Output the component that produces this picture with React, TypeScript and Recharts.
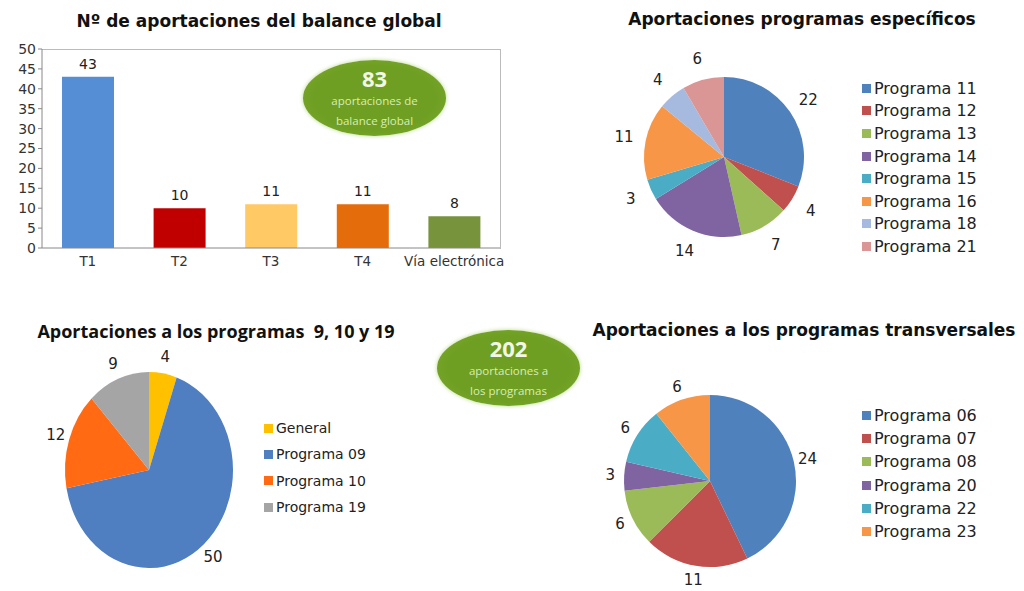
import React from 'react';
import { BarChart, Bar, XAxis, YAxis, Cell, LabelList, PieChart, Pie } from 'recharts';

// bar chart: contributions to the global balance
const balanceCats = ['T1', 'T2', 'T3', 'T4', 'Vía electrónica'];
const balanceVals = [43, 10, 11, 11, 8];
const balanceColors = ['#558ED5', '#C00000', '#FFC966', '#E46C0A', '#77933C'];
const balanceTicks = [0, 5, 10, 15, 20, 25, 30, 35, 40, 45, 50];

// specific programmes
const espNames = ['Programa 11', 'Programa 12', 'Programa 13', 'Programa 14', 'Programa 15', 'Programa 16', 'Programa 18', 'Programa 21'];
const espVals = [22, 4, 7, 14, 3, 11, 4, 6];
const espColors = ['#4F81BD', '#C0504D', '#9BBB59', '#8064A2', '#4BACC6', '#F79646', '#A5BADE', '#D99694'];

// programmes 9, 10 and 19
const p9Names = ['General', 'Programa 09', 'Programa 10', 'Programa 19'];
const p9Vals = [4, 50, 12, 9];
const p9Colors = ['#FFC000', '#4F7EC1', '#FF6A12', '#A5A5A5'];

// transversal programmes
const trNames = ['Programa 06', 'Programa 07', 'Programa 08', 'Programa 20', 'Programa 22', 'Programa 23'];
const trVals = [24, 11, 6, 3, 6, 6];
const trColors = ['#4F81BD', '#C0504D', '#9BBB59', '#8064A2', '#4BACC6', '#F79646'];

const FONT = '"DejaVu Sans", Verdana, sans-serif';
const RADIAN = Math.PI / 180;
const P9_STRETCH = 1.167;

const toRows = (names: string[], vals: number[]) => names.map((n, i) => ({ name: n, value: vals[i] }));

const makeLabel = (offset: number, sy = 1) => (props: any) => {
  const { cx, cy, midAngle, outerRadius, value } = props;
  const r = outerRadius + offset;
  const x = cx + r * Math.cos(-midAngle * RADIAN);
  const y = cy + r * Math.sin(-midAngle * RADIAN);
  return (
    <text
      x={x}
      y={y}
      textAnchor="middle"
      dominantBaseline="central"
      fontSize={15}
      fontFamily={FONT}
      fill="#222"
      transform={sy !== 1 ? `translate(${x},${y}) scale(1,${1 / sy}) translate(${-x},${-y})` : undefined}
    >
      {value}
    </text>
  );
};

const SimpleLegend = ({ names, colors, left, top, gap, fontSize }: any) => (
  <div style={{ position: 'absolute', left, top, fontFamily: FONT, fontSize, color: '#222' }}>
    {names.map((n: string, i: number) => (
      <div key={n} style={{ height: gap, display: 'flex', alignItems: 'center' }}>
        <span style={{ width: 9, height: 9, background: colors[i], marginRight: 3, display: 'inline-block' }} />
        {n}
      </div>
    ))}
  </div>
);

const Bubble = ({ left, top, big, lines }: any) => (
  <div
    style={{
      position: 'absolute',
      left,
      top,
      width: 143,
      height: 76,
      borderRadius: '50%',
      background: 'radial-gradient(ellipse at center, #6E9E22 60%, #79A82C 85%, #A9C972 100%)',
      boxShadow: '0 0 4px #B9D98A',
      textAlign: 'center',
      fontFamily: '"Open Sans", sans-serif',
      color: '#D9EDB2',
    }}
  >
    <div style={{ fontSize: 22, fontWeight: 700, color: '#F3F8E6', marginTop: 5, lineHeight: '26px' }}>{big}</div>
    {lines.map((l: string) => (
      <div key={l} style={{ fontSize: 11.5, lineHeight: '20px' }}>{l}</div>
    ))}
  </div>
);

const titleStyle = (left: number, top: number, width: number, family = FONT, size = 17): React.CSSProperties => ({
  position: 'absolute',
  left,
  top,
  width,
  textAlign: 'center',
  fontFamily: family,
  fontWeight: 700,
  fontSize: size,
  color: '#111',
});

export default function App() {
  const barData = balanceCats.map((c, i) => ({ name: c, value: balanceVals[i] }));

  return (
    <div style={{ position: 'absolute', left: 0, top: 0, width: 1024, height: 591, background: '#fff', overflow: 'hidden' }}>
      {/* bar chart */}
      <div style={titleStyle(0, 11, 518)}>Nº de aportaciones del balance global</div>
      <div style={{ position: 'absolute', left: 42, top: 49, width: 458, height: 199, borderTop: '1px solid #BBB', borderRight: '1px solid #BBB' }} />
      <div style={{ position: 'absolute', left: 0, top: 0 }}>
        <BarChart width={510} height={290} data={barData} margin={{ top: 49, right: 10, left: 0, bottom: 12 }}>
          <XAxis
            dataKey="name"
            height={30}
            tickLine={false}
            axisLine={{ stroke: '#888' }}
            tick={{ fontSize: 13.5, fill: '#333', fontFamily: FONT }}
            interval={0}
          />
          <YAxis
            width={42}
            domain={[0, 50]}
            ticks={balanceTicks}
            interval={0}
            axisLine={{ stroke: '#888' }}
            tickLine={{ stroke: '#888' }}
            tickSize={4}
            tick={{ fontSize: 14, fill: '#333', fontFamily: FONT }}
          />
          <Bar dataKey="value" barSize={52} isAnimationActive={false}>
            {barData.map((d, i) => (
              <Cell key={d.name} fill={balanceColors[i]} />
            ))}
            <LabelList dataKey="value" position="top" offset={8} fontSize={14} fill="#222" fontFamily={FONT} />
          </Bar>
        </BarChart>
      </div>
      <Bubble left={303} top={60} big="83" lines={['aportaciones de', 'balance global']} />

      {/* specific programmes */}
      <div style={titleStyle(580, 9, 444)}>Aportaciones programas específicos</div>
      <div style={{ position: 'absolute', left: 580, top: 0 }}>
        <PieChart width={300} height={290} margin={{ top: 0, right: 0, bottom: 0, left: 0 }}>
          <Pie
            data={toRows(espNames, espVals)}
            dataKey="value"
            nameKey="name"
            cx={144}
            cy={157}
            outerRadius={80}
            startAngle={90}
            endAngle={-270}
            stroke="none"
            label={makeLabel(22)}
            labelLine={false}
            isAnimationActive={false}
          >
            {espVals.map((_, i) => (
              <Cell key={i} fill={espColors[i]} />
            ))}
          </Pie>
        </PieChart>
      </div>
      <SimpleLegend names={espNames} colors={espColors} left={862} top={77} gap={22.6} fontSize={16} />

      {/* programmes 9, 10, 19 */}
      <div style={titleStyle(16, 319, 400, '"Open Sans", sans-serif', 18)}>Aportaciones a los programas&nbsp; 9, 10 y 19</div>
      <div style={{ position: 'absolute', left: 0, top: 310, transform: `scale(1, ${P9_STRETCH})`, transformOrigin: '149px 160px' }}>
        <PieChart width={260} height={281} margin={{ top: 0, right: 0, bottom: 0, left: 0 }}>
          <Pie
            data={toRows(p9Names, p9Vals)}
            dataKey="value"
            nameKey="name"
            cx={149}
            cy={160}
            outerRadius={84}
            startAngle={90}
            endAngle={-270}
            stroke="none"
            label={makeLabel(14, P9_STRETCH)}
            labelLine={false}
            isAnimationActive={false}
          >
            {p9Vals.map((_, i) => (
              <Cell key={i} fill={p9Colors[i]} />
            ))}
          </Pie>
        </PieChart>
      </div>
      <SimpleLegend names={p9Names} colors={p9Colors} left={264} top={415} gap={26.3} fontSize={14} />

      <Bubble left={437} top={330} big="202" lines={['aportaciones a', 'los programas']} />

      {/* transversal programmes */}
      <div style={titleStyle(584, 320, 440)}>Aportaciones a los programas transversales</div>
      <div style={{ position: 'absolute', left: 560, top: 310 }}>
        <PieChart width={300} height={281} margin={{ top: 0, right: 0, bottom: 0, left: 0 }}>
          <Pie
            data={toRows(trNames, trVals)}
            dataKey="value"
            nameKey="name"
            cx={150}
            cy={171}
            outerRadius={86}
            startAngle={90}
            endAngle={-270}
            stroke="none"
            label={makeLabel(14)}
            labelLine={false}
            isAnimationActive={false}
          >
            {trVals.map((_, i) => (
              <Cell key={i} fill={trColors[i]} />
            ))}
          </Pie>
        </PieChart>
      </div>
      <SimpleLegend names={trNames} colors={trColors} left={862} top={404} gap={23.2} fontSize={16} />
    </div>
  );
}
